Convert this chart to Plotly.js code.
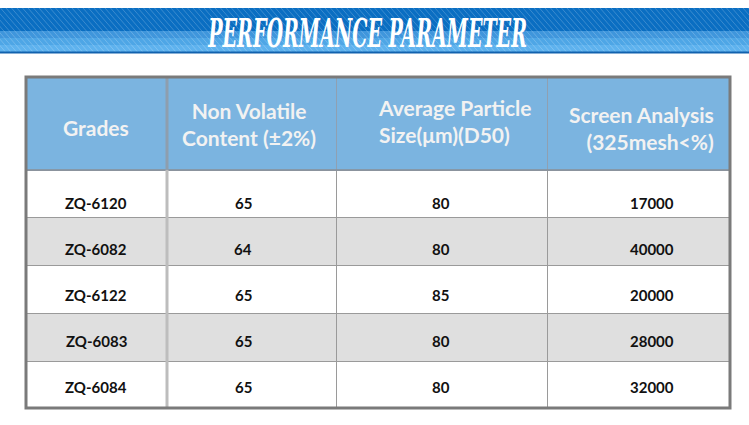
<!DOCTYPE html>
<html>
<head>
<meta charset="utf-8">
<script src="https://cdn.plot.ly/plotly-3.0.1.min.js"></script>
<style>
    html, body { margin: 0; padding: 0; background: #fff; }
    /* squeeze the banner title into a condensed look */
    .annotation-text.title-text { transform-box: fill-box; transform-origin: center; transform: scaleX(0.53); }
</style>
</head>
<body>
<div id="chart" style="width:749px;height:425px"></div>
<script>
// table data
const chartTitle = 'PERFORMANCE PARAMETER';
const headerLabels = [
    'Grades',
    'Non Volatile<br>Content (±2%)',
    'Average Particle<br>Size(μm)(D50)',
    'Screen Analysis<br>(325mesh&lt;%)'
];
const grades = ['ZQ-6120', 'ZQ-6082', 'ZQ-6122', 'ZQ-6083', 'ZQ-6084'];
const nonVolatile = [65, 64, 65, 65, 65];
const particleSize = [80, 80, 85, 80, 80];
const screenAnalysis = [17000, 40000, 20000, 28000, 32000];

const W = 749, H = 425;
// pixel -> paper helpers
const px = x => x / W;
const py = y => 1 - y / H;

const NB = '\u00A0';
const columns = [grades, nonVolatile, particleSize, screenAnalysis];

// alternating row fills (white / light gray)
const rowFill = grades.map((g, i) => i % 2 === 1 ? '#dfdfdf' : '#ffffff');
const blank = grades.map(() => NB);
const headerBlue = '#7bb4e0';

// table trace gives the grid and fills; text goes on top as annotations
// because plotly tables can't centre text vertically
const table = {
    type: 'table',
    domain: { x: [px(26), px(730)], y: [py(408), py(77)] },
    columnwidth: [140, 170, 211, 183],
    header: {
        values: headerLabels.map(() => NB),
        height: 93,
        fill: { color: headerBlue },
        line: { color: '#8fa0b2', width: 1 },
        font: { family: 'Lato', size: 15 }
    },
    cells: {
        values: columns.map(() => blank),
        height: 47.8,
        fill: { color: columns.map(() => rowFill) },
        line: { color: '#9a9a9a', width: 1 },
        font: { family: 'Lato', size: 15 }
    }
};

// header label placement
const headerPos = [
    { x: 96, y: 128, xanchor: 'center', align: 'center' },
    { x: 249, y: 124, xanchor: 'center', align: 'center' },
    { x: 376, y: 121, xanchor: 'left', align: 'left' },
    { x: 716, y: 128, xanchor: 'right', align: 'right' }
];
// body column text centres
const cellX = [96, 243, 441, 652];
const firstRowY = 203, rowStep = 46;

const annotations = [
    {
        text: chartTitle, xref: 'paper', yref: 'paper', x: px(367), y: py(33),
        xanchor: 'center', yanchor: 'middle', showarrow: false,
        font: { family: 'DejaVu Serif Condensed', size: 40, color: '#ffffff', style: 'italic', weight: 'bold' }
    }
];
headerLabels.forEach((label, c) => {
    const p = headerPos[c];
    annotations.push({
        text: label, xref: 'paper', yref: 'paper', x: px(p.x), y: py(p.y),
        xanchor: p.xanchor, yanchor: 'middle', align: p.align, showarrow: false,
        font: { family: 'Lato', size: 21, color: '#f2f2f2', weight: 'bold' }
    });
});
columns.forEach((col, c) => {
    col.forEach((v, r) => {
        annotations.push({
            text: String(v), xref: 'paper', yref: 'paper',
            x: px(cellX[c]), y: py(firstRowY + rowStep * r),
            xanchor: 'center', yanchor: 'middle', showarrow: false,
            font: { family: 'Lato', size: 15, color: '#111111', weight: 'bold' }
        });
    });
});

// banner stripes
let stripes = '';
for (let x = -60; x < W + 10; x += 5.5) {
    stripes += `M${px(x)},${py(8)} L${px(x + 38)},${py(52)} `;
}

const rect = (x0, y0, x1, y1, fill) => ({
    type: 'rect', xref: 'paper', yref: 'paper',
    x0: px(x0), x1: px(x1), y0: py(y1), y1: py(y0),
    fillcolor: fill, line: { width: 0 }, layer: 'below'
});
const vline = (x, y0, y1, color, width) => ({
    type: 'line', xref: 'paper', yref: 'paper',
    x0: px(x), x1: px(x), y0: py(y1), y1: py(y0),
    line: { color: color, width: width }
});

const layout = {
    width: W,
    height: H,
    margin: { l: 0, r: 0, t: 0, b: 0 },
    paper_bgcolor: '#ffffff',
    showlegend: false,
    shapes: [
        // banner
        rect(0, 8, W, 31, '#0a6ec2'),
        rect(0, 31, W, 38, '#3f96dc'),
        rect(0, 38, W, 45, '#4ea6e6'),
        rect(0, 45, W, 52, '#5eb2ee'),
        { type: 'path', xref: 'paper', yref: 'paper', path: stripes, line: { color: 'rgba(255,255,255,0.2)', width: 1 } },
        { type: 'line', xref: 'paper', yref: 'paper', x0: 0, x1: 1, y0: py(52.5), y1: py(52.5), line: { color: '#1262ae', width: 2 } },
        // header / body boundary
        { type: 'line', xref: 'paper', yref: 'paper', x0: px(26), x1: px(730), y0: py(170), y1: py(170), line: { color: '#8a8f96', width: 1.5 } },
        // thick separator after first column
        vline(167, 77, 170, '#8e9eae', 3),
        vline(167, 170, 408, '#bdbdbd', 3),
        // outer border
        { type: 'rect', xref: 'paper', yref: 'paper', x0: px(26), x1: px(730), y0: py(408), y1: py(77), line: { color: '#7a7a7a', width: 3 } }
    ],
    annotations: annotations
};

Plotly.newPlot('chart', [table], layout, { staticPlot: true, displayModeBar: false }).then(gd => {
    // only the banner title gets the condensed squeeze
    const first = gd.querySelector('.annotation[data-index="0"] .annotation-text');
    if (first) first.classList.add('title-text');
});
</script>
</body>
</html>
